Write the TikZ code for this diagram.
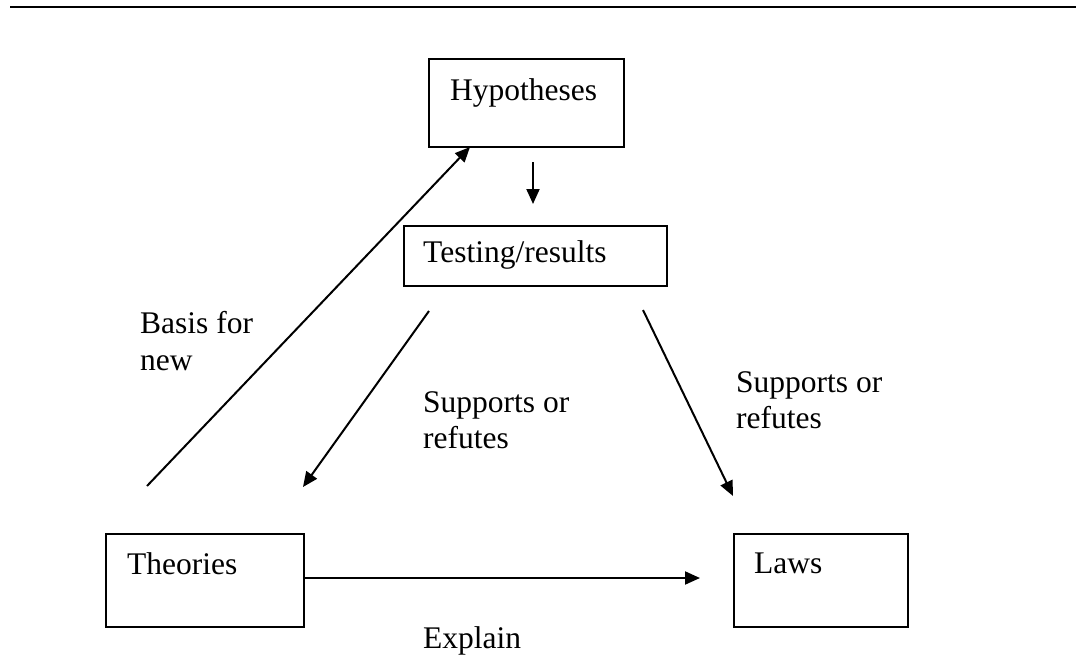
\documentclass[tikz,border=0pt]{standalone}
\usepackage{fontspec}
\setmainfont{Liberation Serif}
\usetikzlibrary{arrows.meta}
\begin{document}
\begin{tikzpicture}[x=1pt,y=-1pt,
  boxnode/.style={draw,line width=2pt,inner sep=0pt,anchor=north west},
  lbl/.style={anchor=base west,inner sep=0pt,font=\fontsize{31.5}{36.5}\selectfont},
  conn/.style={line width=2pt,-{Triangle[length=15pt,width=13pt]}}]
\useasboundingbox (0,0) rectangle (1076,664);
\coordinate (rl) at (10,7);
\coordinate (rr) at (1076,7);
\draw[line width=2.5pt] (rl) -- (rr);
% boxes
\node[boxnode,minimum width=195pt,minimum height=88pt] (hyp) at (428,58) {};
\node[boxnode,minimum width=263pt,minimum height=60pt] (test) at (403,225) {};
\node[boxnode,minimum width=198pt,minimum height=93pt] (theo) at (105,533) {};
\node[boxnode,minimum width=174pt,minimum height=93pt] (laws) at (733,533) {};
% labels
\node[lbl] (thyp) at (450,100) {Hypotheses};
\node[lbl] (ttest) at (423,262) {Testing/results};
\node[lbl] (ttheo) at (127,574) {Theories};
\node[lbl] (tlaws) at (754,573) {Laws};
\node[lbl] (tbasis1) at (140,333) {Basis for};
\node[lbl] (tbasis2) at (140,370) {new};
\node[lbl] (tsupl1) at (423,412) {Supports or};
\node[lbl] (tsupl2) at (423,448) {refutes};
\node[lbl] (tsupr1) at (736,392) {Supports or};
\node[lbl] (tsupr2) at (736,428) {refutes};
\node[lbl] (texpl) at (423,648) {Explain};
% connector ends
\coordinate (d1) at (533,162);
\coordinate (d2) at (533,204);
\coordinate (b1) at (147,486);
\coordinate (b2) at (470,147);
\coordinate (sl1) at (429,311);
\coordinate (sl2) at (303,487);
\coordinate (sr1) at (643,310);
\coordinate (sr2) at (733,496);
\coordinate (e2) at (700,578);
% connectors
\draw[conn] (d1) -- (d2);
\draw[conn] (b1) -- (b2);
\draw[conn] (sl1) -- (sl2);
\draw[conn] (sr1) -- (sr2);
\draw[conn] (theo.east |- e2) -- (e2);
\end{tikzpicture}
\end{document}
